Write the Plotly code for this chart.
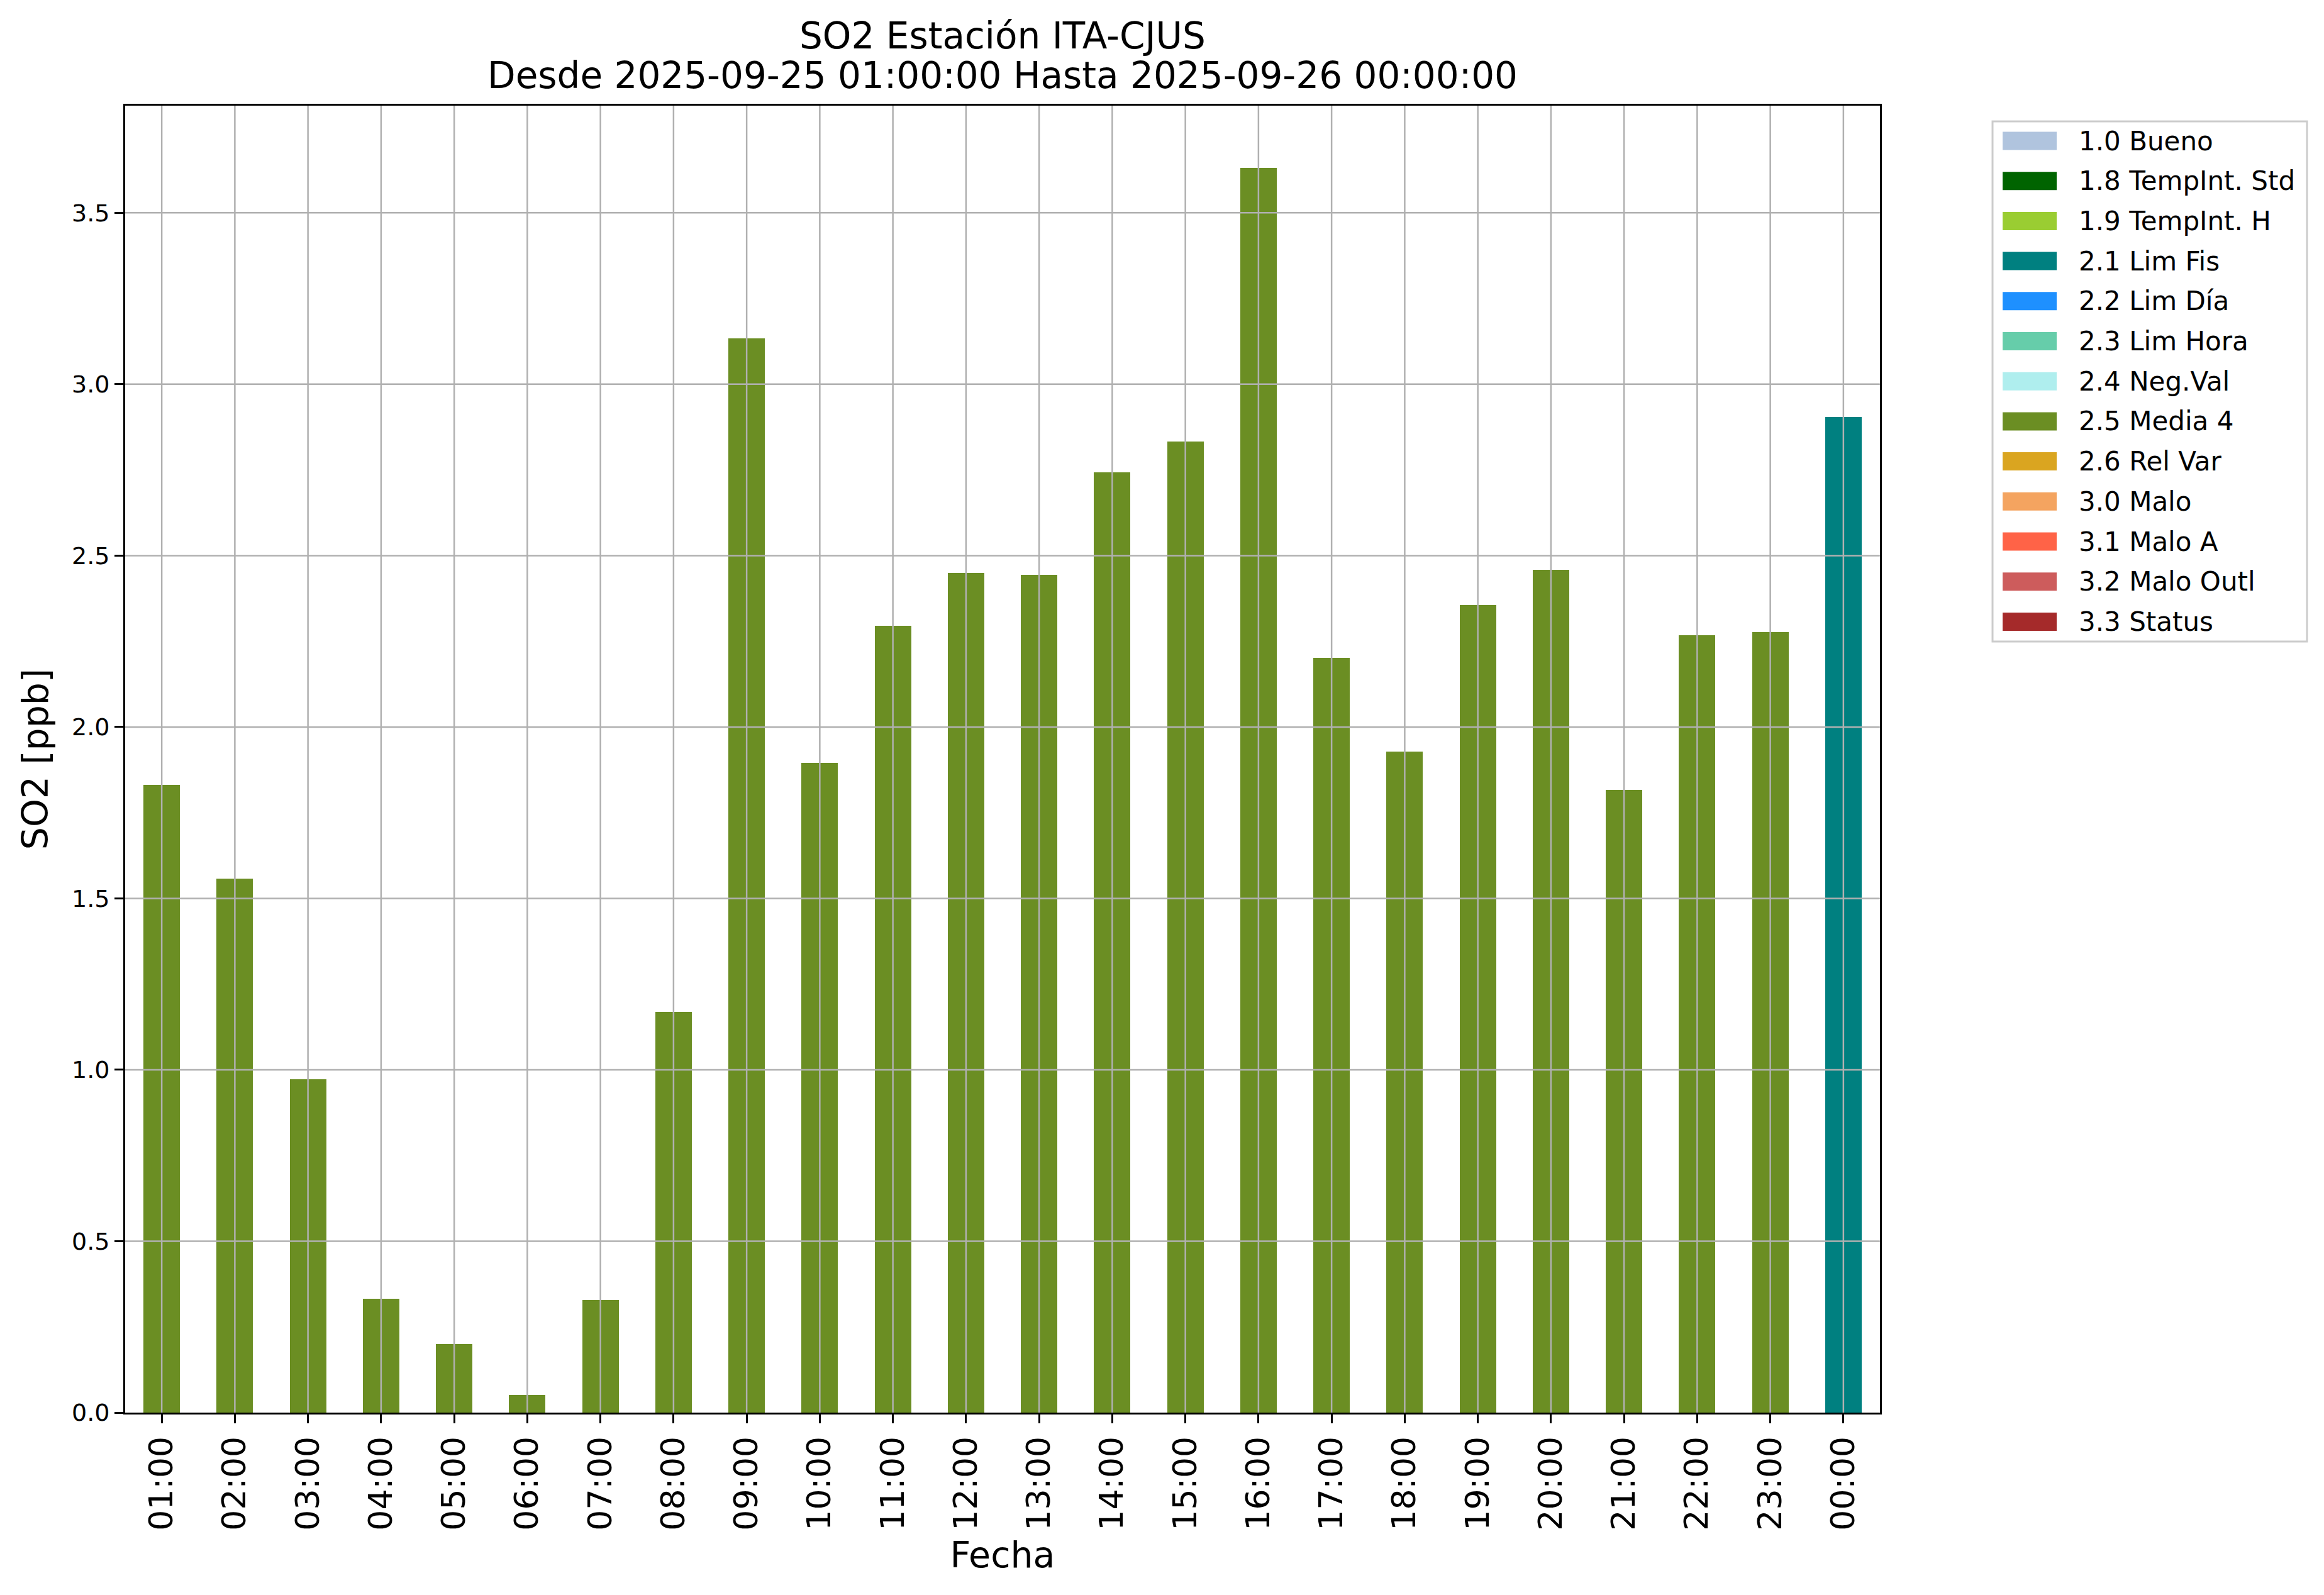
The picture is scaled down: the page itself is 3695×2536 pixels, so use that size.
import plotly.graph_objects as go

# ---------------- data ----------------
hours = ["01:00", "02:00", "03:00", "04:00", "05:00", "06:00", "07:00", "08:00",
         "09:00", "10:00", "11:00", "12:00", "13:00", "14:00", "15:00", "16:00",
         "17:00", "18:00", "19:00", "20:00", "21:00", "22:00", "23:00", "00:00"]

so2_values = [1.831, 1.558, 0.972, 0.332, 0.200, 0.051, 0.328, 1.169,
              3.133, 1.895, 2.295, 2.449, 2.444, 2.743, 2.833, 3.631,
              2.201, 1.928, 2.355, 2.458, 1.816, 2.267, 2.276, 2.905]

hour_flags = ["2.5", "2.5", "2.5", "2.5", "2.5", "2.5", "2.5", "2.5",
              "2.5", "2.5", "2.5", "2.5", "2.5", "2.5", "2.5", "2.5",
              "2.5", "2.5", "2.5", "2.5", "2.5", "2.5", "2.5", "2.1"]

flag_codes = ["1.0", "1.8", "1.9", "2.1", "2.2", "2.3", "2.4", "2.5", "2.6",
              "3.0", "3.1", "3.2", "3.3"]
flag_labels = ["1.0 Bueno", "1.8 TempInt. Std", "1.9 TempInt. H", "2.1 Lim Fis",
               "2.2 Lim Día", "2.3 Lim Hora", "2.4 Neg.Val", "2.5 Media 4",
               "2.6 Rel Var", "3.0 Malo", "3.1 Malo A", "3.2 Malo Outl", "3.3 Status"]
flag_colors = ["#B0C4DE", "#006400", "#9ACD32", "#008080", "#1E90FF", "#66CDAA",
               "#AFEEEE", "#6B8E23", "#DAA520", "#F4A460", "#FF6347", "#CD5C5C",
               "#A52A2A"]

y_ticks = [0.0, 0.5, 1.0, 1.5, 2.0, 2.5, 3.0, 3.5]

title_lines = ["SO2 Estación ITA-CJUS",
               "Desde 2025-09-25 01:00:00 Hasta 2025-09-26 00:00:00"]

# ---------------- layout geometry (pixels) ----------------
W, H = 3695, 2536
L, R, T, B = 199, 2989, 168, 2246
FONT = "DejaVu Sans"
GRID = "#b0b0b0"
y_max = max(so2_values) * 1.05


def px_x(px):
    return (px - L) / (R - L)


def px_y(py):
    return (B - py) / (B - T)


fig = go.Figure()

for code, label, color in zip(flag_codes, flag_labels, flag_colors):
    yv = [v if f == code else None for v, f in zip(so2_values, hour_flags)]
    fig.add_trace(go.Bar(
        x=list(range(len(hours))), y=yv, name=label,
        marker=dict(color=color, line=dict(width=0)),
        width=0.5, showlegend=False,
    ))

shapes = []
# gridlines drawn above the bars (as in the reference)
for i in range(len(hours)):
    shapes.append(dict(type="line", xref="x", yref="paper", x0=i, x1=i, y0=0, y1=1,
                       line=dict(color=GRID, width=2.5), layer="above"))
for t in y_ticks[1:]:
    shapes.append(dict(type="line", xref="paper", yref="y", x0=0, x1=1, y0=t, y1=t,
                       line=dict(color=GRID, width=2.5), layer="above"))

# manual legend (matplotlib-style wide patches)
box_l, box_r, box_t, box_b = 3168, 3668, 193, 1020
shapes.append(dict(type="rect", xref="paper", yref="paper",
                   x0=px_x(box_l), x1=px_x(box_r), y0=px_y(box_b), y1=px_y(box_t),
                   line=dict(color="#cccccc", width=3), fillcolor="white", layer="above"))
annotations = []
row0, row_step = 224, 63.7
for k, (label, color) in enumerate(zip(flag_labels, flag_colors)):
    cy = row0 + k * row_step
    shapes.append(dict(type="rect", xref="paper", yref="paper",
                       x0=px_x(3184), x1=px_x(3270), y0=px_y(cy + 14.5), y1=px_y(cy - 14.5),
                       line=dict(width=0), fillcolor=color, layer="above"))
    annotations.append(dict(text=label, xref="paper", yref="paper", x=px_x(3303), y=px_y(cy),
                            xanchor="left", yanchor="middle", showarrow=False,
                            font=dict(family=FONT, size=42, color="black")))

# two-line title
for line, cy in zip(title_lines, [57, 120]):
    annotations.append(dict(text=line, xref="paper", yref="paper", x=0.5, y=px_y(cy),
                            xanchor="center", yanchor="middle", showarrow=False,
                            font=dict(family=FONT, size=58, color="black")))

fig.update_layout(
    width=W, height=H,
    margin=dict(l=L, r=W - R, t=T, b=H - B, pad=0),
    paper_bgcolor="white", plot_bgcolor="white",
    barmode="stack", bargap=0.5,
    font=dict(family=FONT, color="black"),
    shapes=shapes, annotations=annotations,
    showlegend=False,
)

fig.update_xaxes(
    range=[-0.5, len(hours) - 0.5],
    tickmode="array", tickvals=list(range(len(hours))), ticktext=hours,
    tickangle=-90, tickfont=dict(family=FONT, size=52, color="black"),
    ticks="outside", ticklen=14, tickwidth=3, tickcolor="black",
    showgrid=False, zeroline=False, automargin=False,
    showline=True, linecolor="black", linewidth=3, mirror=True,
    title=dict(text="Fecha", font=dict(family=FONT, size=57, color="black"), standoff=20),
)
fig.update_yaxes(
    range=[0, y_max],
    tickmode="array", tickvals=y_ticks, ticktext=[f"{t:.1f}" for t in y_ticks],
    tickfont=dict(family=FONT, size=38, color="black"),
    ticks="outside", ticklen=14, tickwidth=3, tickcolor="black",
    showgrid=False, zeroline=False, automargin=False,
    showline=True, linecolor="black", linewidth=3, mirror=True,
    title=dict(text="SO2 [ppb]", font=dict(family=FONT, size=57, color="black"), standoff=20),
)

fig.write_html("out.html", config={"displayModeBar": False},
               post_script="document.body.style.margin='0px';")
